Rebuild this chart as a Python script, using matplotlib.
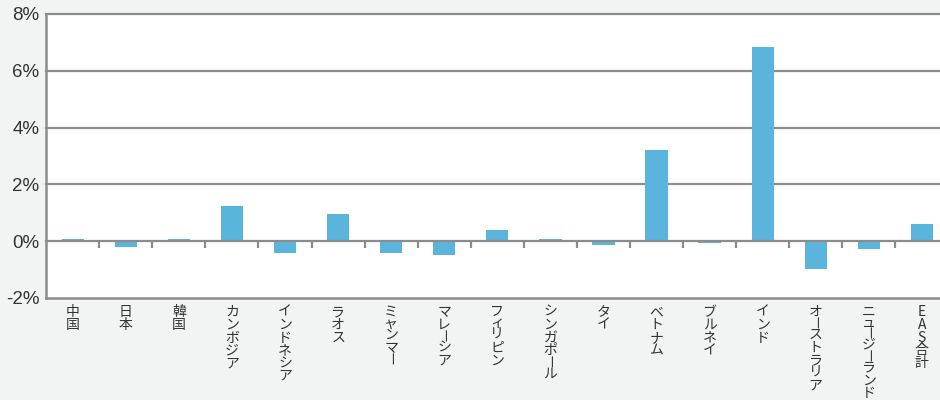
import matplotlib
matplotlib.use("Agg")
import matplotlib.pyplot as plt
import numpy as np

countries = ["中国", "日本", "韓国", "カンボジア", "インドネシア", "ラオス", "ミャンマー",
             "マレーシア", "フィリピン", "シンガポール", "タイ", "ベトナム", "ブルネイ",
             "インド", "オーストラリア", "ニュージーランド", "EAS合計"]
change_pct = [0.08, -0.2, 0.08, 1.25, -0.42, 0.96, -0.42, -0.49, 0.39, 0.08,
              -0.13, 3.21, -0.05, 6.84, -0.97, -0.26, 0.61]
yticks = [-2, 0, 2, 4, 6, 8]

bg = "#f2f3f3"
bar_color = "#5ab4dc"
line_color = "#8c8c8e"
text_color = "#333333"

fig = plt.figure(figsize=(9.4, 4.0), dpi=100, facecolor=bg)
# right edge runs past the figure, so the last column is cut off
ax = fig.add_axes([46.2 / 940, 1 - 298 / 400, (948.4 - 46.2) / 940, 284 / 400])
ax.set_facecolor("white")

x = np.arange(len(countries))
ax.bar(x, change_pct, width=0.42, color=bar_color, zorder=2)

ax.set_xlim(-0.5, len(countries) - 0.5)
ax.set_ylim(yticks[0], yticks[-1])

for v in yticks[1:]:
    ax.axhline(v, color=line_color, lw=1.6, zorder=1 if v != 0 else 3, clip_on=False)

# short separators hanging under the zero line
ax.vlines(x[:-1] + 0.5, 0, -0.24, color=line_color, lw=1.6, zorder=3)

for side in ["top", "right"]:
    ax.spines[side].set_visible(False)
for side in ["left", "bottom"]:
    ax.spines[side].set_color(line_color)
    ax.spines[side].set_linewidth(1.8)

ax.set_yticks(yticks)
ax.set_yticklabels([f"{v}%" for v in yticks], fontsize=13.5, color=text_color,
                   family=["Liberation Sans", "DejaVu Sans"])
ax.tick_params(axis="y", length=0, pad=5)
ax.set_xticks([])

# vertical (tategaki) category labels, one glyph at a time
trans = ax.get_xaxis_transform()
px = 72 / fig.dpi
fs = 10
em = fs / px  # em size in pixels
short = set("ーャュョィァッ")


def glyph_h(ch):
    return 10.0 if ch in short else 12.8


for i, name in enumerate(countries):
    y_off = -14.0
    for j, ch in enumerate(name):
        if j > 0:
            y_off -= (glyph_h(name[j - 1]) + glyph_h(ch)) / 2
        kw = dict(xy=(i, 0), xycoords=trans, textcoords="offset points",
                  ha="center", fontsize=fs, color=text_color,
                  family=["Noto Sans CJK JP", "DejaVu Sans"], annotation_clip=False)
        if ch == "ー":
            # long vowel mark turned upright; bar sits ~0.38em above the baseline
            ax.annotate(ch, xytext=(-0.38 * em * px, y_off * px), va="baseline",
                        rotation=-90, rotation_mode="anchor", **kw)
        else:
            ax.annotate(ch, xytext=(0, y_off * px), va="center", **kw)

fig.savefig("out.png", dpi=100, facecolor=bg)
